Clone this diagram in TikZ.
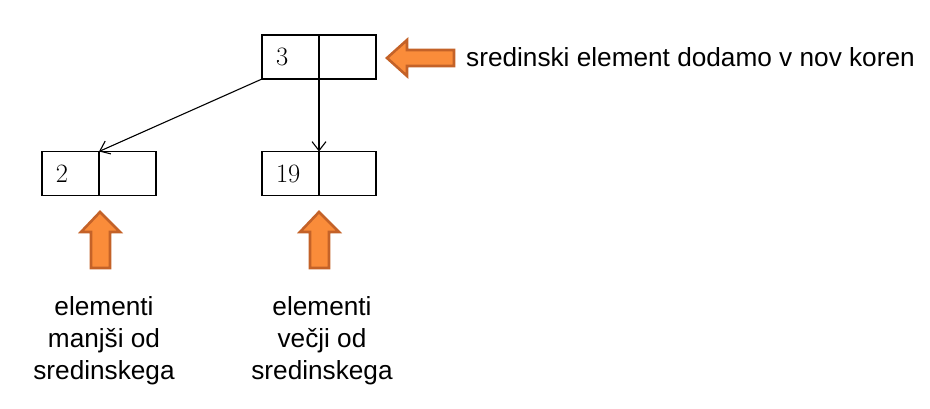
\documentclass[tikz,border=0pt]{standalone}
\usepackage{fontspec}
\newfontfamily\sansf{Liberation Sans}
\usetikzlibrary{arrows.meta}
\definecolor{orfill}{RGB}{250,140,58}
\definecolor{ordraw}{RGB}{196,98,40}
\begin{document}
\begin{tikzpicture}[x=1pt,y=-1pt,
  cell/.style={draw=black,line width=1.4pt,minimum width=57pt,minimum height=44pt,
    inner xsep=14pt,inner ysep=0pt,outer sep=0pt,text width=29pt,align=left,
    font=\fontsize{26.5}{30}\selectfont,anchor=west},
  link/.style={line width=1.1pt,-{Straight Barb[length=9pt,width=14pt,line width=1.1pt]}},
  blockarrow/.style={fill=orfill,draw=ordraw,line width=2.6pt,line join=miter},
  label/.style={font=\sansf\fontsize{26.2}{32}\selectfont,inner sep=0pt}]
\useasboundingbox (0,0) rectangle (930,409);
% top node
\node[cell] (t1) at (262,57) {3};
\node[cell,minimum width=56pt] (t2) at (t1.east) {};
% left node
\node[cell] (l1) at (42,173.5) {2};
\node[cell,minimum width=56pt] (l2) at (l1.east) {};
% right node
\node[cell] (r1) at (262,173.5) {19};
\node[cell,minimum width=56pt] (r2) at (r1.east) {};
% connectors
\draw[link] (t1.south west) -- (l1.north east);
\draw[link] (t1.south east) -- (r1.north east);
% block arrows
\draw[blockarrow] (387,58) -- (407,40) -- (407,50) -- (454,50) -- (454,66) -- (407,66) -- (407,76) -- cycle;
\draw[blockarrow] (100,212) -- (81,232) -- (91,232) -- (91,268) -- (110,268) -- (110,232) -- (120,232) -- cycle;
\draw[blockarrow] (319,212) -- (300,232) -- (310,232) -- (310,268) -- (329,268) -- (329,232) -- (339,232) -- cycle;
% labels
\node[label,anchor=west] (lt) at (466,57) {sredinski element dodamo v nov koren};
\node[label,align=center] (ll) at (104,341) {elementi\\manjši od\\sredinskega};
\node[label,align=center] (lr) at (322,341) {elementi\\večji od\\sredinskega};
\end{tikzpicture}
\end{document}
